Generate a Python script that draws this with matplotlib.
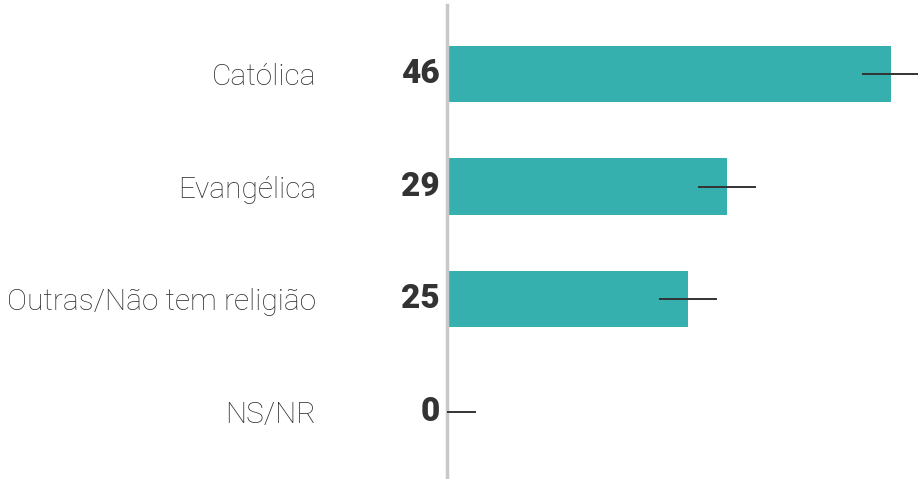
import matplotlib.pyplot as plt
from matplotlib.transforms import offset_copy

categories = ["Católica", "Evangélica", "Outras/Não tem religião", "NS/NR"]
values = [46, 29, 25, 0]
margin = [3, 3, 3, 3]

teal = "#35b0ae"
dark = "#333333"

fig = plt.figure(figsize=(9.18, 4.79), dpi=100)
ax = fig.add_axes([447 / 918, 0, 471 / 918, 474 / 479])

ypos = list(range(len(categories)))
ax.barh(ypos, values, height=0.5, color=teal, zorder=2)

# margin of error, clipped at zero on the left
lower = [min(m, v) for m, v in zip(margin, values)]
ax.errorbar(values, ypos, xerr=[lower, margin], fmt="none",
            ecolor=dark, elinewidth=1.4, capsize=0, zorder=3)

ax.set_xlim(0, 48.8)
ax.set_ylim(3.595, -0.612)

for side in ["top", "right", "bottom"]:
    ax.spines[side].set_visible(False)
ax.spines["left"].set_color("#c8c8c8")
ax.spines["left"].set_linewidth(2.5)
ax.set_xticks([])
ax.set_yticks(ypos)
ax.set_yticklabels(categories, fontfamily="Roboto", fontweight="light",
                   fontsize=21.5, color="#2e2e2e")
ax.tick_params(axis="y", length=0, pad=94)

# value labels just left of the axis line
label_tr = offset_copy(ax.transData, fig=fig, x=-5, y=0, units="points")
for y, v in zip(ypos, values):
    ax.text(0, y, str(v), transform=label_tr, ha="right", va="center",
            fontfamily="Roboto", fontweight="black", fontsize=24, color=dark)

fig.savefig("out.png", dpi=100)
